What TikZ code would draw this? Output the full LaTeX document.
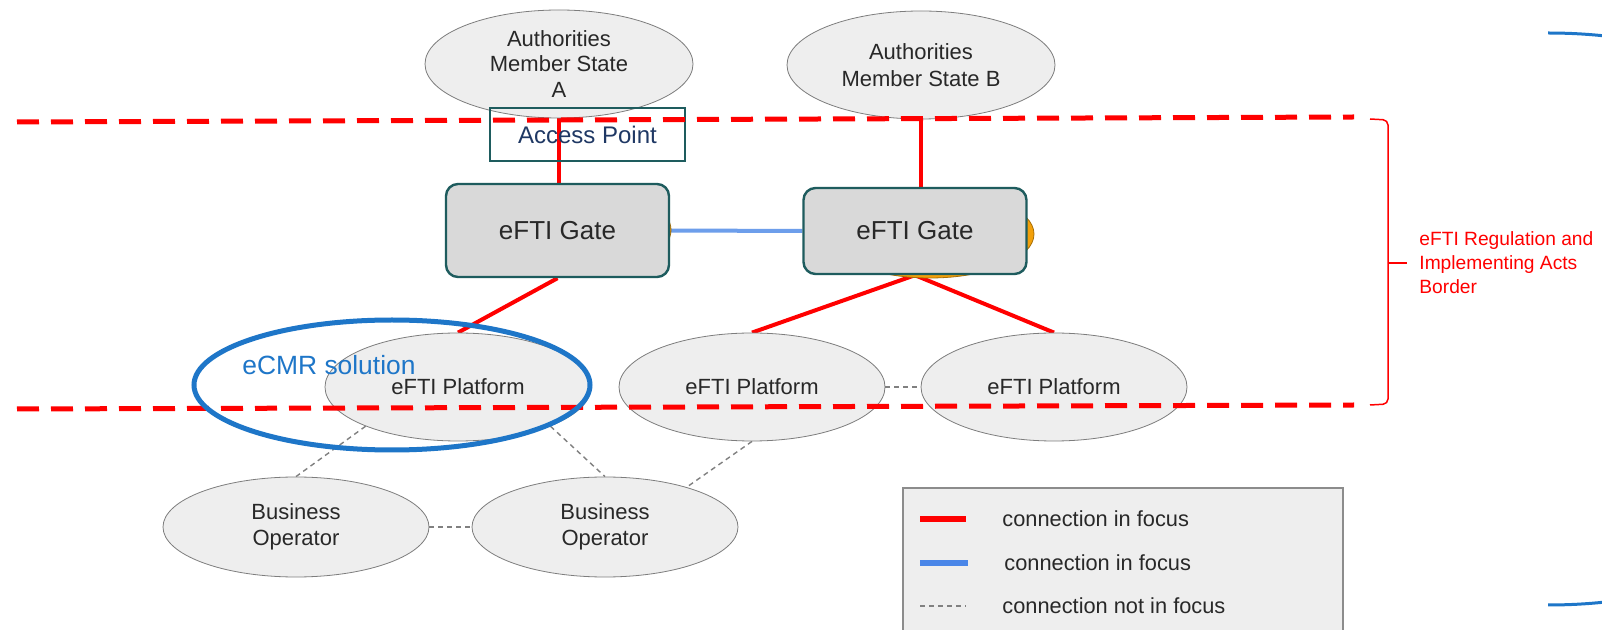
\documentclass[tikz,border=0pt]{standalone}
\usepackage{fontspec}
\setmainfont{Liberation Sans}
\usetikzlibrary{shapes.geometric,backgrounds,positioning}

\definecolor{gateteal}{RGB}{30,92,94}
\definecolor{gatefill}{RGB}{217,217,217}
\definecolor{bubblefill}{RGB}{238,238,238}
\definecolor{bubbleline}{RGB}{125,125,125}
\definecolor{linkblue}{RGB}{109,158,235}
\definecolor{legendblue}{RGB}{74,134,232}
\definecolor{ecmrblue}{RGB}{30,118,200}
\definecolor{navytext}{RGB}{31,56,100}
\definecolor{glow}{RGB}{242,160,10}
\definecolor{nodetext}{RGB}{40,40,40}

\begin{document}
\begin{tikzpicture}[x=0.5pt,y=-0.5pt,node distance=18pt,
                    bubble/.style={
                               % The shape:
                               ellipse,inner sep=0pt,minimum width=133pt,minimum height=54pt,
                               % The rest
                               thin,draw=bubbleline,fill=bubblefill,text=nodetext,
                               align=center,font=\fontsize{11}{12.8}\selectfont},
                    gate/.style={
                               % The shape:
                               rectangle,rounded corners=6pt,minimum width=111.5pt,minimum height=46.5pt,
                               % The rest
                               very thick,draw=gateteal,fill=gatefill,text=nodetext,
                               font=\fontsize{13}{15}\selectfont},
                    glowblob/.style={ellipse,inner sep=0pt,fill=glow,draw=glow!70!black},
                    focus/.style={draw=red,line width=2pt},
                    focusblue/.style={draw=linkblue,line width=2pt},
                    loose/.style={draw=black!50,line width=0.7pt,dash pattern=on 2.5pt off 2pt},
                    border/.style={draw=red,line width=2.5pt,dash pattern=on 11pt off 6pt},
                    legendtext/.style={text=nodetext,inner sep=0pt,font=\fontsize{10.9}{13}\selectfont}]
 \useasboundingbox (0,0) rectangle (1602,630);

 % orange shapes behind the gates
 \node (glowA) [glowblob,minimum width=61pt,minimum height=35pt]  at (610,230) {};
 \node (glowB) [glowblob,minimum width=104pt,minimum height=44pt] at (930,234) {};

 \node (authA) [bubble,minimum width=134pt] at (559,64) {Authorities\\Member State\\A};
 \node (authB) [bubble,minimum width=134pt,
                font=\fontsize{11}{13.5}\selectfont] at (921,65) {Authorities\\Member State B};

 \node (gateA) [gate]                    at (557.5,230.5) {eFTI Gate};
 \node (gateB) [gate,minimum height=43pt] at (915,231) {eFTI Gate};

 \node (access) [draw=gateteal,thick,minimum width=97.5pt,minimum height=26.5pt,
                 text=navytext,font=\fontsize{12}{14}\selectfont] at (587.5,134.5) {Access Point};

 \node (platA) [bubble] at (458,387)  {eFTI Platform};
 \node (platB) [bubble] at (752,387)  {eFTI Platform};
 \node (platC) [bubble] at (1054,387) {eFTI Platform};

 \node (opA) [bubble,minimum height=50pt] at (296,527) {Business\\Operator};
 \node (opB) [bubble,minimum height=50pt] at (605,527) {Business\\Operator};

 \begin{pgfonlayer}{background}
  \fill [white] (0,0) rectangle (1602,630);
  \draw [focus] (authA.south) -- (authA.south |- gateA.north);
  \draw [focus] (authB.south) -- (authB.south |- gateB.north);
  \draw [focus] (gateA.south) -- (platA.north);
  \draw [focus] (gateB.south) -- (platB.north);
  \draw [focus] (gateB.south) -- (platC.north);
  \draw [focusblue] (gateA.east) -- (gateB.west);
  \draw [loose] (platA.203) -- (opA.north);
  \draw [loose] (platA.337) -- (opB.north);
  \draw [loose] (platB.south) -- (opB.26);
  \draw [loose] (opA.east) -- (opB.west);
  \draw [loose] (platB.east) -- (platC.west);
 \end{pgfonlayer}

 % regulation border
 \draw [border] (17,122) -- (1354,117);
 \draw [border] (17,409) -- (1354,405);
 \draw [red,line width=0.75pt,rounded corners=2.5pt] (1370,119) -- (1388,120) -- (1388,404) -- (1370,405);
 \draw [red,line width=0.75pt] (1388,263) -- (1407,263);
 \node (regText) [anchor=west,text=red,align=left,inner sep=0pt,
                  font=\fontsize{9.6}{12}\selectfont] at (1419,263) {eFTI Regulation and\\Implementing Acts\\Border};

 \node (ecmr) [ellipse,draw=ecmrblue,line width=2.5pt,minimum width=198pt,minimum height=65pt] at (392,385) {};
 \node (ecmrText) [anchor=west,text=ecmrblue,inner sep=0pt,
                   font=\fontsize{13.2}{15}\selectfont] at (242,365) {eCMR solution};

 % legend
 \node (legend) [draw=black!45,fill=bubblefill,thick,anchor=north west,
                 minimum width=220pt,minimum height=82pt] at (902,487) {};
 \coordinate (redA) at (920,519);  \coordinate (redB) at (966,519);
 \coordinate (blueA) at (920,563); \coordinate (blueB) at (968,563);
 \coordinate (grayA) at (920,606); \coordinate (grayB) at (966,606);
 \draw [red,line width=3pt] (redA) -- (redB);
 \draw [legendblue,line width=3pt] (blueA) -- (blueB);
 \draw [loose] (grayA) -- (grayB);
 \node (lgRed)  [legendtext,right=of redB]  {connection in focus};
 \node (lgBlue) [legendtext,right=of blueB] {connection in focus};
 \node (lgGray) [legendtext,right=of grayB] {connection not in focus};

 % outer blue arc at the right edge
 \begin{scope}
  \clip (0,0) rectangle (1602,630);
  \draw [ecmrblue,line width=1.5pt] (1548,33) .. controls (1760,33) and (1900,150) .. (1900,319)
                                    .. controls (1900,488) and (1760,605) .. (1548,605);
 \end{scope}
\end{tikzpicture}
\end{document}
